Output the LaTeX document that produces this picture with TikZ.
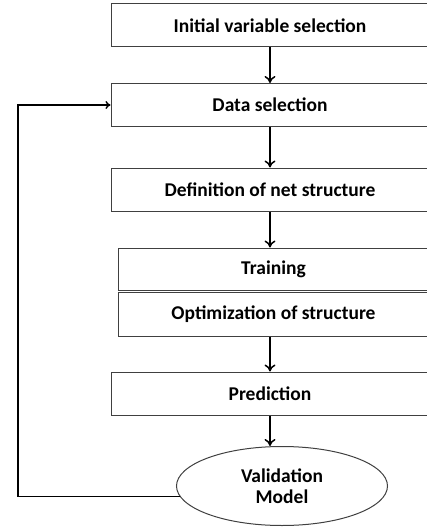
\documentclass[tikz,border=0pt]{standalone}
\usepackage{fontspec}
\setmainfont{Carlito}
\usetikzlibrary{arrows.meta,shapes.geometric}

\begin{document}
\begin{tikzpicture}[yscale=-1, x=1pt, y=1pt,
    stepbox/.style={draw=black!75, line width=1pt, fill=white, minimum width=318pt,
        minimum height=43pt, inner sep=0pt, font=\fontsize{19.5}{21}\selectfont\bfseries},
    flow/.style={line width=2.2pt, -{To[length=7pt,width=11pt,line width=1.5pt]}},
    back/.style={line width=1.4pt, -{To[length=5pt,width=8pt]}}]
    \useasboundingbox (0,0) rectangle (427,527);

    % Define the positions of the boxes
    \coordinate (initPos) at (270, 25.5);
    \coordinate (dataPos) at (270, 105);
    \coordinate (defPos) at (270, 189.5);
    \coordinate (trainPos) at (273.5, 269);
    \coordinate (optPos) at (273.5, 314);
    \coordinate (predPos) at (270, 393.5);
    \coordinate (validPos) at (282, 486);
    \coordinate (loopPos) at (18, 300);

    % Draw the boxes
    \node[stepbox] (init) at (initPos) {Initial variable selection};
    \node[stepbox] (data) at (dataPos) {Data selection};
    \node[stepbox] (def) at (defPos) {Definition of net structure};
    \node[stepbox, minimum width=311pt, minimum height=42pt] (train) at (trainPos) {Training};
    \node[stepbox, minimum width=311pt, minimum height=44pt] (opt) at (optPos) {Optimization of structure};
    \node[stepbox] (pred) at (predPos) {Prediction};
    \node[stepbox, ellipse, minimum width=211pt, minimum height=79pt, align=center] (valid) at (validPos) {Validation\\Model};

    % Draw the arrows
    \draw[flow] (init) -- (data);
    \draw[flow] (data) -- (def);
    \draw[flow] (def) -- (def |- train.north);
    \draw[flow] (pred |- opt.south) -- (pred);
    \draw[flow] (pred) -- (pred |- valid.north);
    \draw[back] (valid.186) -| (loopPos) |- (data.west);

\end{tikzpicture}
\end{document}
